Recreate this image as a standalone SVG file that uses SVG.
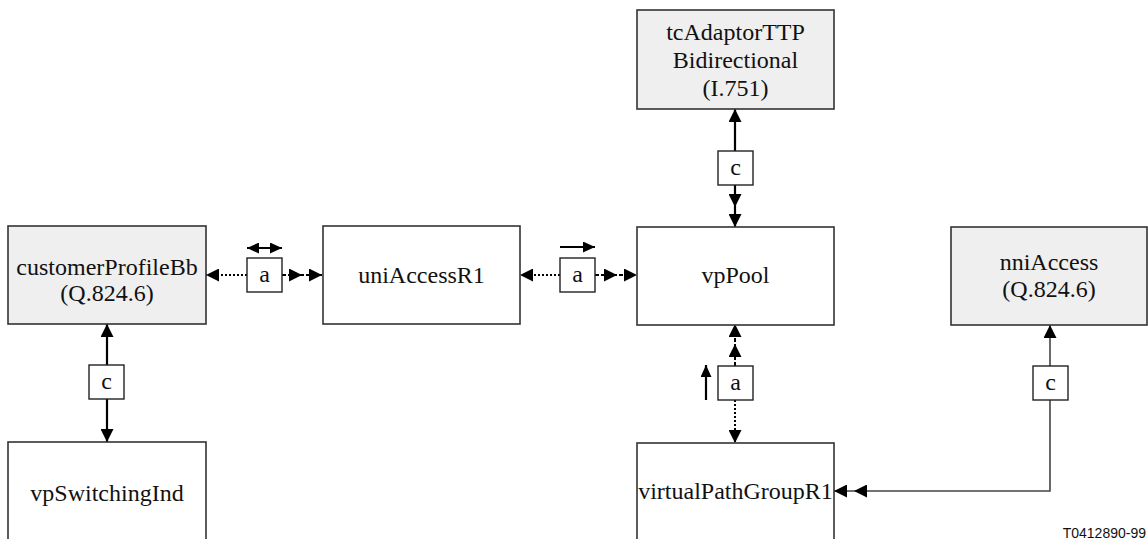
<svg xmlns="http://www.w3.org/2000/svg" width="1148" height="539" viewBox="0 0 1148 539">
  <style>
    .box { stroke: #333; stroke-width: 1.6; fill: #fff; }
    .grey { fill: #efefef; }
    .tag { stroke: #222; stroke-width: 1.4; fill: #fff; }
    .lbl { font-family: "Liberation Serif", "Times New Roman", serif; font-size: 24px; fill: #111; text-anchor: middle; }
    .solid { stroke: #000; stroke-width: 2.2; fill: none; }
    .thin { stroke: #444; stroke-width: 1.6; fill: none; }
    .dot { stroke: #000; stroke-width: 2; fill: none; stroke-dasharray: 2 2; }
    .dash { stroke: #000; stroke-width: 2; fill: none; stroke-dasharray: 4 2; }
    .ref { font-family: "Liberation Sans", Arial, sans-serif; font-size: 14px; fill: #111; text-anchor: end; }
  </style>
  <defs>
    <marker id="ah" markerUnits="userSpaceOnUse" viewBox="0 0 13 13" refX="13" refY="6.5" markerWidth="13" markerHeight="13" orient="auto">
      <path d="M0,0 L13,6.5 L0,13 Z" fill="#000"/>
    </marker>
    <marker id="ah2" markerUnits="userSpaceOnUse" viewBox="0 0 33 13" refX="33" refY="6.5" markerWidth="33" markerHeight="13" orient="auto">
      <path d="M0,0 L13,6.5 L0,13 Z M20,0 L33,6.5 L20,13 Z" fill="#000"/>
    </marker>
    <marker id="sm" markerUnits="userSpaceOnUse" viewBox="0 0 12 11" refX="12" refY="5.5" markerWidth="12" markerHeight="11" orient="auto-start-reverse">
      <path d="M0,0 L12,5.5 L0,11 Z" fill="#000"/>
    </marker>
  </defs>

  <!-- connectors -->
  <g id="connectors">
    <!-- customerProfileBb <-> uniAccessR1 -->
    <path class="dot" d="M247,275 H206" marker-end="url(#ah)"/>
    <path class="dash" d="M282,275 H322" marker-end="url(#ah2)"/>
    <!-- uniAccessR1 <-> vpPool -->
    <path class="dot" d="M560,275 H520" marker-end="url(#ah)"/>
    <path class="dash" d="M595,275 H637" marker-end="url(#ah2)"/>
    <!-- tcAdaptorTTP <-> vpPool -->
    <path class="solid" d="M735,151 V109" marker-end="url(#ah)"/>
    <path class="solid" d="M735,185 V227" marker-end="url(#ah2)"/>
    <!-- customerProfileBb <-> vpSwitchingInd -->
    <path class="solid" d="M107,365 V324" marker-end="url(#ah)"/>
    <path class="solid" d="M107,399 V442" marker-end="url(#ah)"/>
    <!-- virtualPathGroupR1 <-> vpPool -->
    <path class="dash" d="M735,366 V324" marker-end="url(#ah2)"/>
    <path class="dot" d="M735,400 V443" marker-end="url(#ah)"/>
    <!-- nniAccess <-> virtualPathGroupR1 -->
    <path class="thin" d="M1050,366 V325" marker-end="url(#ah)"/>
    <path class="thin" d="M1050,400 V491 H834" marker-end="url(#ah2)"/>
    <!-- direction indicators -->
    <path class="solid" d="M247,248 H282" marker-start="url(#sm)" marker-end="url(#sm)"/>
    <path class="solid" d="M560,247 H595" marker-end="url(#sm)"/>
    <path class="solid" d="M706,400 V365" marker-end="url(#sm)"/>
  </g>

  <!-- relation tags -->
  <g id="tag-a1"><rect class="tag" x="247" y="258" width="35" height="34"/><text class="lbl" x="264.5" y="282">a</text></g>
  <g id="tag-a2"><rect class="tag" x="560" y="258" width="35" height="34"/><text class="lbl" x="577.5" y="282">a</text></g>
  <g id="tag-a3"><rect class="tag" x="718" y="366" width="35" height="34"/><text class="lbl" x="735.5" y="390">a</text></g>
  <g id="tag-c1"><rect class="tag" x="718" y="151" width="35" height="34"/><text class="lbl" x="735.5" y="175">c</text></g>
  <g id="tag-c2"><rect class="tag" x="89" y="365" width="35" height="34"/><text class="lbl" x="106.5" y="389">c</text></g>
  <g id="tag-c3"><rect class="tag" x="1033" y="366" width="35" height="34"/><text class="lbl" x="1050.5" y="390">c</text></g>

  <!-- nodes -->
  <g id="tcAdaptorTTP">
    <rect class="box grey" x="637" y="10" width="197" height="99"/>
    <text class="lbl" x="735.5" y="40">tcAdaptorTTP</text>
    <text class="lbl" x="735.5" y="68">Bidirectional</text>
    <text class="lbl" x="735.5" y="96">(I.751)</text>
  </g>
  <g id="customerProfileBb">
    <rect class="box grey" x="8" y="226" width="198" height="98"/>
    <text class="lbl" x="107" y="275">customerProfileBb</text>
    <text class="lbl" x="107" y="301">(Q.824.6)</text>
  </g>
  <g id="uniAccessR1">
    <rect class="box" x="323" y="226" width="197" height="98"/>
    <text class="lbl" x="421.5" y="283">uniAccessR1</text>
  </g>
  <g id="vpPool">
    <rect class="box" x="637" y="227" width="197" height="98"/>
    <text class="lbl" x="735.5" y="283">vpPool</text>
  </g>
  <g id="nniAccess">
    <rect class="box grey" x="951" y="227" width="196" height="98"/>
    <text class="lbl" x="1049" y="270">nniAccess</text>
    <text class="lbl" x="1049" y="297">(Q.824.6)</text>
  </g>
  <g id="vpSwitchingInd">
    <rect class="box" x="8" y="442" width="198" height="100"/>
    <text class="lbl" x="107" y="501">vpSwitchingInd</text>
  </g>
  <g id="virtualPathGroupR1">
    <rect class="box" x="637" y="443" width="197" height="100"/>
    <text class="lbl" x="735.5" y="499">virtualPathGroupR1</text>
  </g>

  <text class="ref" x="1146" y="538">T0412890-99</text>
</svg>
